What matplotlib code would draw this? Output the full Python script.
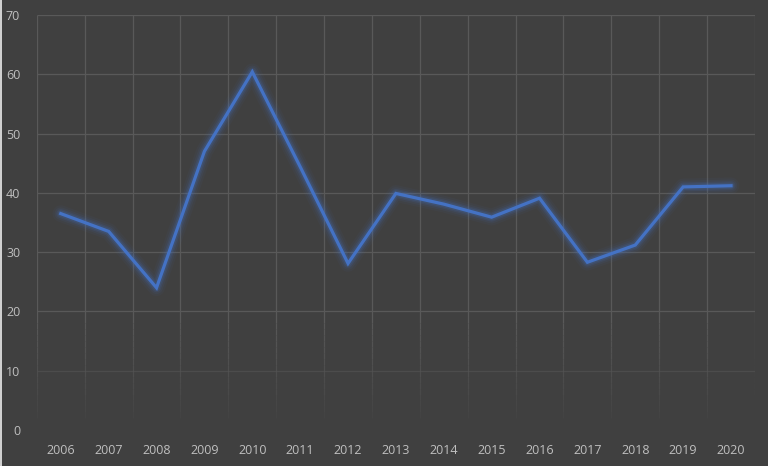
import matplotlib.pyplot as plt
import matplotlib.patches as mpatches
import numpy as np

plt.rcParams['font.family'] = ['Open Sans', 'DejaVu Sans']

years = ['2006', '2007', '2008', '2009', '2010', '2011', '2012', '2013',
         '2014', '2015', '2016', '2017', '2018', '2019', '2020']
values = [36.5, 33.5, 24.0, 47.0, 60.4, 44.4, 28.1, 39.9,
          38.1, 35.9, 39.1, 28.3, 31.2, 41.0, 41.2]

bg = '#404040'
grid_col = '#595959'
text_col = '#bfbfbf'
line_col = '#4472c4'

fig = plt.figure(figsize=(7.68, 4.66), dpi=100, facecolor=bg)
ax = fig.add_axes([0.048, 0.077, 0.935, 0.891])
ax.set_facecolor(bg)

x = np.arange(len(years))
bounds = np.arange(-0.5, len(years), 1)

# gridlines, fading out toward the bottom like the original
ax.hlines(range(20, 71, 10), -0.5, len(years) - 0.5, color=grid_col, linewidth=0.9, zorder=0)
ax.hlines([10], -0.5, len(years) - 0.5, color=grid_col, linewidth=0.9, alpha=0.5, zorder=0)
ax.vlines(bounds, 18, 70, color=grid_col, linewidth=0.9, capstyle='butt', zorder=0)
steps = np.linspace(18, 2, 17)
for top, bot in zip(steps[:-1], steps[1:]):
    a = 0.15 + 0.85 * (bot - 2) / 16
    ax.vlines(bounds, bot, top, color=grid_col, linewidth=0.9, alpha=a,
              capstyle='butt', zorder=0)

# soft glow under the line
for lw, a in [(12, 0.05), (9, 0.08), (6.5, 0.12), (4.5, 0.18)]:
    ax.plot(x, values, color=line_col, linewidth=lw, alpha=a,
            solid_joinstyle='round', solid_capstyle='round', zorder=2)
ax.plot(x, values, color=line_col, linewidth=2.3, solid_joinstyle='miter', zorder=3)

ax.set_xlim(-0.5, len(years) - 0.5)
ax.set_ylim(0, 70)
ax.set_yticks(range(0, 71, 10))
ax.set_xticks(x)
ax.set_xticklabels(years)

ax.tick_params(axis='both', which='both', length=0, colors=text_col, labelsize=9)
ax.tick_params(axis='y', pad=12)
ax.tick_params(axis='x', pad=10)
for s in ax.spines.values():
    s.set_visible(False)

# thin light strip on the left edge
fig.patches.append(mpatches.Rectangle((0, 0), 2 / 768, 1, transform=fig.transFigure,
                                      facecolor='#d0d0d0', edgecolor='none'))

fig.savefig('out.png', dpi=100, facecolor=bg)
